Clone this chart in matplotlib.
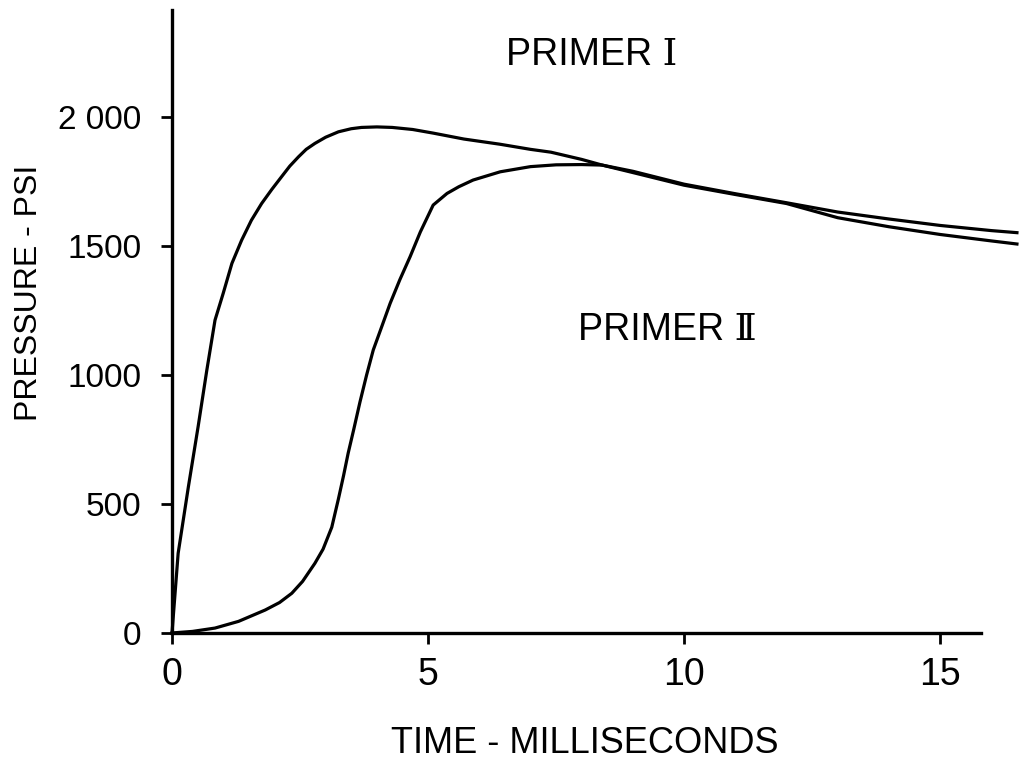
import matplotlib
matplotlib.use("Agg")
import matplotlib.pyplot as plt

# Pressure (psi) vs time (ms)
primer1_t = [0, 0.12, 0.32, 0.51, 0.68, 0.84, 1.0, 1.17, 1.36, 1.55, 1.75, 1.95, 2.14,
             2.3, 2.47, 2.62, 2.79, 3.0, 3.25, 3.5, 3.7, 4.0, 4.3, 4.7, 5.1, 5.7, 6.4,
             7.0, 7.4, 8.0, 8.4, 9.0, 10.0, 11.0, 12.0, 13.0, 14.0, 15.0, 16.0, 16.5]
primer1_p = [0, 309, 567, 800, 1019, 1213, 1317, 1433, 1523, 1600, 1665, 1720, 1769,
             1810, 1846, 1875, 1898, 1922, 1943, 1955, 1960, 1962, 1960, 1952, 1938, 1915, 1895,
             1875, 1864, 1836, 1814, 1785, 1736, 1700, 1665, 1610, 1575, 1545, 1520, 1508]

primer2_t = [0, 0.4, 0.84, 1.3, 1.82, 2.1, 2.34, 2.55, 2.79, 2.95, 3.12, 3.25, 3.35,
             3.44, 3.55, 3.67, 3.8, 3.93, 4.1, 4.26, 4.45, 4.65, 4.85, 5.1, 5.37, 5.6,
             5.88, 6.41, 7.0, 7.5, 8.0, 8.4, 9.0, 10.0, 11.0, 12.0, 13.0, 14.0, 15.0,
             16.0, 16.5]
primer2_p = [0, 6, 19, 45, 89, 118, 154, 200, 270, 325, 410, 520, 610,
             697, 790, 895, 1000, 1097, 1190, 1278, 1370, 1459, 1555, 1659, 1704, 1730,
             1756, 1788, 1808, 1815, 1816, 1814, 1790, 1740, 1703, 1668, 1632, 1605, 1580,
             1560, 1552]

x_ticks = [0, 5, 10, 15]
y_ticks = [0, 500, 1000, 1500, 2000]
y_tick_labels = ['0', '500', '1000', '1500', '2 000']

FONT = ['Liberation Sans', 'DejaVu Serif']

fig = plt.figure(figsize=(10.19, 7.69), dpi=100)
ax = fig.add_axes([0.1688, 0.1769, 0.794, 0.810])

ax.plot(primer1_t, primer1_p, color='black', linewidth=2.3, clip_on=False,
        solid_joinstyle='round')
ax.plot(primer2_t, primer2_p, color='black', linewidth=2.3, clip_on=False,
        solid_joinstyle='round')

ax.set_xlim(0, 15.8)
ax.set_ylim(0, 2415)

for side in ['top', 'right']:
    ax.spines[side].set_visible(False)
for side in ['left', 'bottom']:
    ax.spines[side].set_linewidth(2.4)

ax.set_xticks(x_ticks)
ax.set_yticks(y_ticks)
ax.set_yticklabels(y_tick_labels)
ax.tick_params(axis='both', direction='out', length=8, width=2)
ax.tick_params(axis='x', pad=9, labelsize=27)
ax.tick_params(axis='y', pad=14, labelsize=24)
for lbl in ax.get_xticklabels() + ax.get_yticklabels():
    lbl.set_family(FONT)

ax.set_xlabel('TIME - MILLISECONDS', fontsize=26, family=FONT)
ax.xaxis.set_label_coords(0.51, -0.15)
ax.set_ylabel('PRESSURE - PSI', fontsize=23, family=FONT)
ax.yaxis.set_label_coords(-0.158, 0.546)

ax.text(8.2, 2240, 'PRIMER Ⅰ', fontsize=27, family=FONT, ha='center', va='center')
ax.text(9.67, 1174, 'PRIMER Ⅱ', fontsize=27, family=FONT, ha='center', va='center')

fig.savefig('out.png', dpi=100)
